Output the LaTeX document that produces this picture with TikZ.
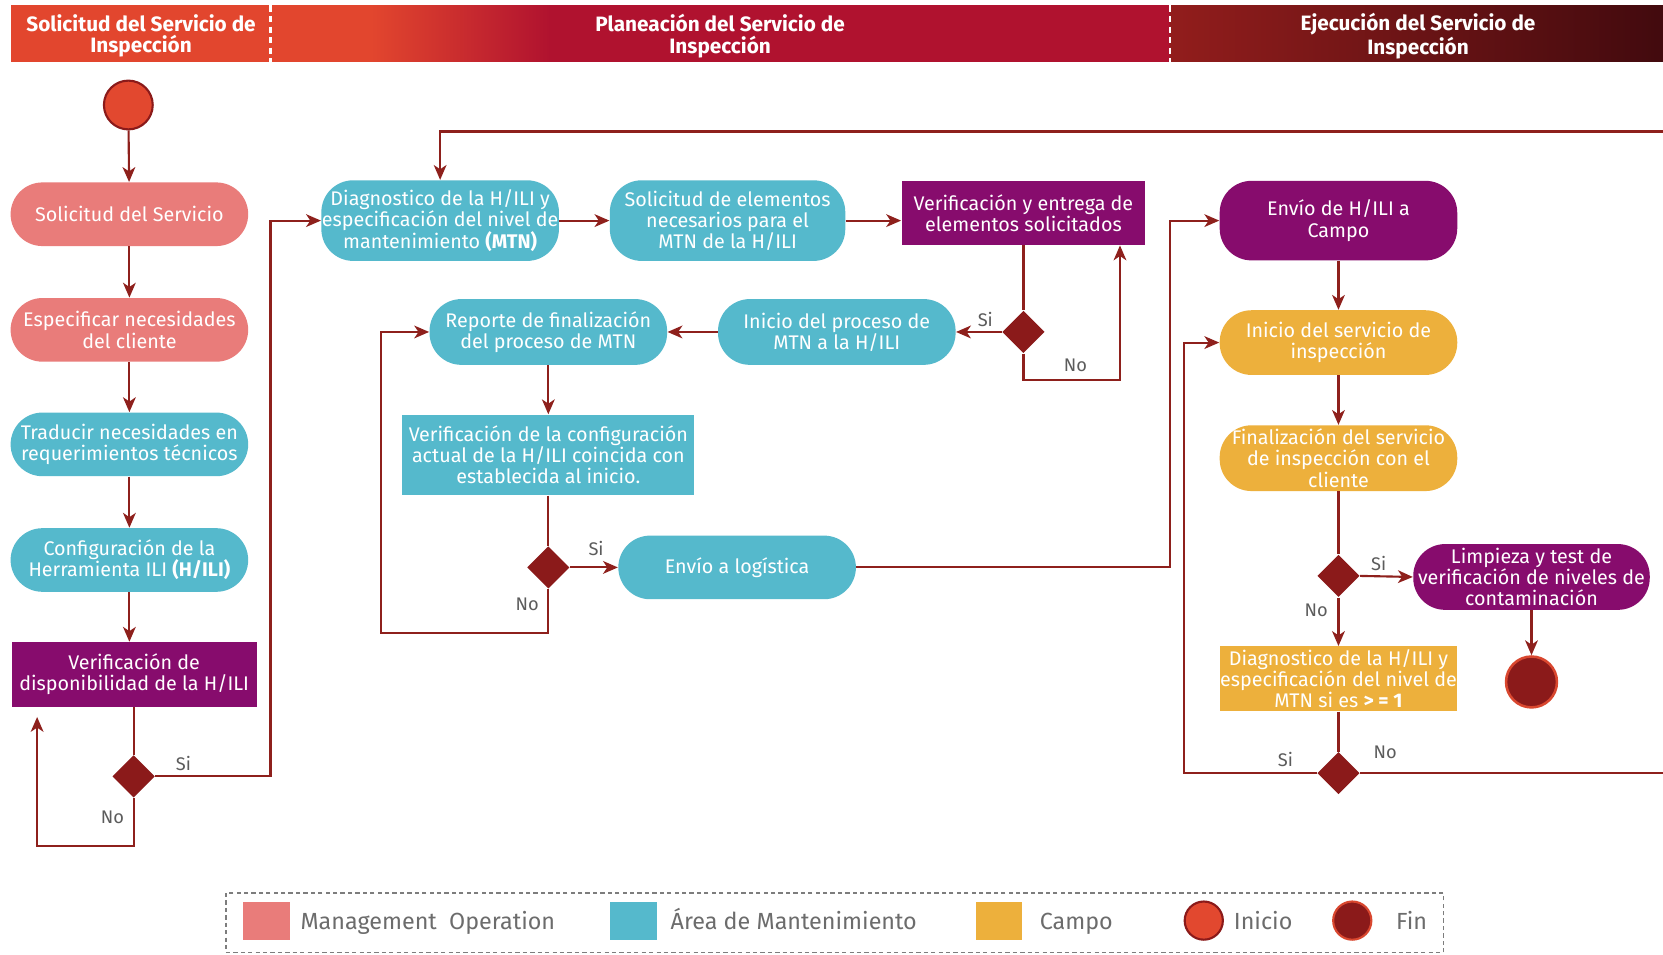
\documentclass[tikz,border=0pt]{standalone}
\usepackage{fontspec}
\setmainfont{Fira Sans}
\usetikzlibrary{arrows.meta,shapes.geometric,calc}

\definecolor{salmon}{HTML}{E97C7A}
\definecolor{tealc}{HTML}{55B9CC}
\definecolor{yellowc}{HTML}{EDB03C}
\definecolor{purplec}{HTML}{870C6D}
\definecolor{linec}{HTML}{8E201C}
\definecolor{decc}{HTML}{8B1A1A}
\definecolor{lblc}{HTML}{5C5C5C}
\definecolor{startc}{HTML}{E2482F}
\definecolor{endrim}{HTML}{D9472F}
\definecolor{hdorange}{HTML}{E2462E}
\definecolor{hdcrimson}{HTML}{B0122F}
\definecolor{hddark}{HTML}{921D1C}
\definecolor{hdblack}{HTML}{420A0E}

\newcommand\nfont{\fontsize{9.3}{10}\selectfont}
\newcommand\hfont{\fontsize{9.8}{10}\selectfont\bfseries}
\newcommand\lblfnt{\fontsize{8.6}{10}\selectfont}
\newcommand\legfnt{\fontsize{11}{13}\selectfont}

\tikzset{
  base/.style={inner sep=0pt, text=white, align=center, font=\nfont},
  pill/.style={base, rectangle, rounded corners=15pt, minimum width=112pt, minimum height=30pt},
  boxnode/.style={base, rectangle},
  flow/.style={draw=linec, line width=1pt, -{Stealth[length=7pt,width=6pt,inset=2pt]}},
  link/.style={draw=linec, line width=1pt},
  decision/.style={diamond, fill=decc, minimum width=20pt, minimum height=20pt, inner sep=0pt},
  lbl/.style={text=lblc, font=\lblfnt, inner sep=0pt},
  legtext/.style={text=lblc!90, font=\legfnt, anchor=base west, inner sep=0pt},
  head/.style={text=white, align=center, font=\hfont, inner sep=0pt},
}

\begin{document}
\begin{tikzpicture}[x=0.5pt,y=-0.5pt]
\useasboundingbox (0,0) rectangle (1568,900);
\fill[white] (0,0) rectangle (1568,900);

% ---- header band ----
\fill[hdorange] (10,5) rectangle (352,58);
\shade[left color=hdorange, right color=hdcrimson] (350,5) rectangle (520,58);
\fill[hdcrimson] (518,5) rectangle (1104,58);
\shade[left color=hddark, right color=hdblack] (1103,5) rectangle (1568,58);
\draw[white, line width=1pt, dash pattern=on 3pt off 2pt] (255,5) -- (255,58);
\draw[white, line width=1pt, dash pattern=on 3pt off 2pt] (1103,5) -- (1103,58);
\node[head] (h1) at (133,34) {Solicitud del Servicio de\\Inspección};
\node[head] (h2) at (679,34) {Planeación del Servicio de\\Inspección};
\node[head] (h3) at (1337,34) {Ejecución del Servicio de\\Inspección};

% ---- request column ----
\node[circle, fill=startc, draw=decc, line width=1pt, minimum size=23pt, inner sep=0pt] (start) at (121,99) {};
\node[pill, fill=salmon] (n1) at (122,202) {Solicitud del Servicio};
\node[pill, fill=salmon] (n2) at (122,311) {Especificar necesidades\\del cliente};
\node[pill, fill=tealc] (n3) at (122,419) {Traducir necesidades en\\requerimientos técnicos};
\node[pill, fill=tealc] (n4) at (122,528) {Configuración de la\\Herramienta ILI \textbf{(H/ILI)}};
\node[boxnode, fill=purplec, minimum width=115.5pt, minimum height=30.5pt] (n5) at (126.5,636) {Verificación de\\disponibilidad de la H/ILI};
\node[decision] (d1) at (126,732) {};

% ---- planning column ----
\node[pill, fill=tealc, minimum height=38pt] (n6) at (415,208) {Diagnostico de la H/ILI y\\especificación del nivel de\\mantenimiento \textbf{(MTN)}};
\node[pill, fill=tealc, minimum width=111pt, minimum height=38pt] (n7) at (686,208) {Solicitud de elementos\\necesarios para el\\MTN de la H/ILI};
\node[boxnode, fill=purplec, minimum width=115pt, minimum height=30pt] (n8) at (965,201) {Verificación y entrega de\\elementos solicitados};
\node[decision] (d2) at (965,313) {};
\node[pill, fill=tealc, minimum height=31pt] (n9) at (789,313) {Inicio del proceso de\\MTN a la H/ILI};
\node[pill, fill=tealc, minimum height=31pt] (n10) at (517,313) {Reporte de finalización\\del proceso de MTN};
\node[boxnode, fill=tealc, minimum width=137.5pt, minimum height=38pt] (n11) at (517,429) {Verificación de la configuración\\actual de la H/ILI coincida con\\establecida al inicio.};
\node[decision] (d3) at (517,535) {};
\node[pill, fill=tealc] (n12) at (695,535) {Envío a logística};

% ---- execution column ----
\node[pill, fill=purplec, minimum height=37.5pt] (n13) at (1262,208) {Envío de H/ILI a\\Campo};
\node[pill, fill=yellowc, minimum height=30.5pt] (n14) at (1262,323) {Inicio del servicio de\\inspección};
\node[pill, fill=yellowc, minimum height=31pt] (n15) at (1262,432) {Finalización del servicio\\de inspección con el\\cliente};
\node[decision] (d4) at (1262,543) {};
\node[pill, fill=purplec, minimum width=111.5pt, minimum height=31pt] (n16) at (1444,544) {Limpieza y test de\\verificación de niveles de\\contaminación};
\node[circle, fill=decc, draw=endrim, line width=1.2pt, minimum size=24pt, inner sep=0pt] (finish) at (1444,643) {};
\node[boxnode, fill=yellowc, minimum width=112pt, minimum height=30.5pt] (n17) at (1262,640) {Diagnostico de la H/ILI y\\especificación del nivel de\\MTN si es \textbf{> = 1}};
\node[decision] (d5) at (1262,729) {};

% ---- bend points ----
\coordinate (c1) at (35,798);
\coordinate (c1end) at (35,676);
\coordinate (c2) at (255,732);
\coordinate (c3) at (1056,358);
\coordinate (c4) at (359,597);
\coordinate (c5) at (1103,208);
\coordinate (c6) at (1568,124);
\coordinate (c7) at (1116,729);
\coordinate (c8) at (1568,729);

% ---- connectors: request ----
\draw[flow] (start) -- (n1);
\draw[flow] (n1) -- (n2);
\draw[flow] (n2) -- (n3);
\draw[flow] (n3) -- (n4);
\draw[flow] (n4.south) -- (n4.south |- n5.north);
\draw[link] (n5.south -| d1) -- (d1.north);
\draw[flow] (d1.south) |- (c1) -- (c1end);
\draw[flow] (d1.east) -- (c2) |- (n6.west);
\node[lbl] at (173,720) {Si};
\node[lbl] at (106,771) {No};

% ---- connectors: planning ----
\draw[flow] (c6) -| (n6.north);
\draw[flow] (n6) -- (n7);
\draw[flow] (n7.east) -- (n7.east -| n8.west);
\draw[link] (n8.south) -- (d2.north);
\draw[flow] (d2.west) -- (n9.east);
\draw[flow] (d2.south) |- (c3) -- (c3 |- n8.south);
\node[lbl] at (929,301) {Si};
\node[lbl] at (1014,344) {No};
\draw[flow] (n9) -- (n10);
\draw[flow] (n10) -- (n11);
\draw[link] (n11.south) -- (d3.north);
\draw[flow] (d3.east) -- (n12.west);
\draw[flow] (d3.south) |- (c4) |- (n10.west);
\node[lbl] at (562,517) {Si};
\node[lbl] at (497,570) {No};
\draw[flow] (n12.east) -| (c5) -- (n13.west);

% ---- connectors: execution ----
\draw[flow] (n13) -- (n14);
\draw[flow] (n14) -- (n15);
\draw[link] (n15.south) -- (d4.north);
\draw[flow] (d4.east) -- (n16.west);
\draw[flow] (n16) -- (finish);
\draw[flow] (d4.south) -- (n17.north);
\draw[link] (n17.south) -- (d5.north);
\draw[flow] (d5.west) -- (c7) |- (n14.west);
\draw[link] (d5.east) -- (c8);
\node[lbl] at (1300,531) {Si};
\node[lbl] at (1241,575) {No};
\node[lbl] at (1212,716) {Si};
\node[lbl] at (1306,709) {No};

% ---- legend ----
\draw[lblc!80, line width=0.8pt, dash pattern=on 2pt off 1.5pt] (213,842) rectangle (1361,898);
\fill[salmon] (229,850) rectangle (273,886);
\node[legtext] (l1) at (283,876) {Management\ \ Operation};
\fill[tealc] (575,850) rectangle (619,886);
\node[legtext] (l2) at (632,876) {Área de Mantenimiento};
\fill[yellowc] (920,850) rectangle (964,886);
\node[legtext] (l3) at (980,876) {Campo};
\node[circle, fill=startc, draw=decc, line width=1pt, minimum size=18pt, inner sep=0pt] (lstart) at (1135,868) {};
\node[legtext] (l4) at (1163,876) {Inicio};
\node[circle, fill=decc, draw=endrim, line width=1pt, minimum size=18pt, inner sep=0pt] (lend) at (1275,868) {};
\node[legtext] (l5) at (1316,876) {Fin};
\end{tikzpicture}
\end{document}
